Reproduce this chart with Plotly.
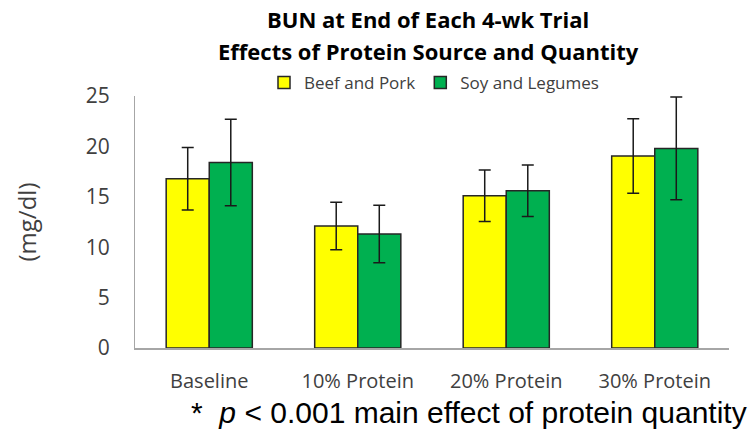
import plotly.graph_objects as go

# 데이터
categories = ['Baseline', '10% Protein', '20% Protein', '30% Protein']
beef_pork = [16.8, 12.1, 15.1, 19.05]
beef_pork_err = [3.1, 2.35, 2.55, 3.7]
soy_legumes = [18.4, 11.3, 15.6, 19.8]
soy_legumes_err = [4.3, 2.85, 2.55, 5.1]
y_ticks = [0, 5, 10, 15, 20, 25]

font_main = 'Open Sans, Lato, sans-serif'
font_note = 'Liberation Sans, Arial, sans-serif'

fig = go.Figure()
fig.add_trace(go.Bar(x = categories, y = beef_pork, name = 'Beef and Pork',
                     marker = dict(color = '#FFFF00', line = dict(color = '#262626', width = 1.5)),
                     error_y = dict(type = 'data', array = beef_pork_err, color = '#1a1a1a',
                                    thickness = 1.5, width = 6)))
fig.add_trace(go.Bar(x = categories, y = soy_legumes, name = 'Soy and Legumes',
                     marker = dict(color = '#00B050', line = dict(color = '#262626', width = 1.5)),
                     error_y = dict(type = 'data', array = soy_legumes_err, color = '#1a1a1a',
                                    thickness = 1.5, width = 6)))

fig.update_layout(
    width = 751, height = 436,
    margin = dict(l = 135, r = 22, t = 96, b = 88, autoexpand = False),
    plot_bgcolor = 'white', paper_bgcolor = 'white',
    barmode = 'group', bargap = 0.42, bargroupgap = 0,
    font = dict(family = font_main, color = '#404040'),
    legend = dict(orientation = 'h', x = (434 - 135) / 594, xanchor = 'center',
                  yref = 'container', y = 1 - 83 / 436, yanchor = 'middle',
                  font = dict(family = font_main, size = 17, color = '#404040'),
                  traceorder = 'normal', itemwidth = 30),
    showlegend = True,
)
fig.update_yaxes(range = [0, 25], tickvals = y_ticks, showgrid = False, zeroline = False,
                 showline = True, linecolor = '#A6A6A6', linewidth = 1,
                 ticks = '', ticklabelstandoff = 20, tickfont = dict(size = 21, color = '#404040'),
                 title = dict(text = '(mg/dl)', font = dict(size = 24, color = '#404040'), standoff = 42))
fig.update_xaxes(showgrid = False, showline = True, linecolor = '#A6A6A6', linewidth = 1.5,
                 ticks = '', ticklabelstandoff = 14, tickfont = dict(size = 20, color = '#404040'))

# 제목 (두 줄)
fig.add_annotation(text = '<b>BUN at End of Each 4-wk Trial</b>', xref = 'paper', yref = 'paper',
                   x = (428 - 135) / 594, y = (348 - 19) / 252, xanchor = 'center', yanchor = 'middle',
                   showarrow = False, font = dict(family = font_main, size = 22, color = 'black'))
fig.add_annotation(text = '<b>Effects of Protein Source and Quantity</b>', xref = 'paper', yref = 'paper',
                   x = (428 - 135) / 594, y = (348 - 51) / 252, xanchor = 'center', yanchor = 'middle',
                   showarrow = False, font = dict(family = font_main, size = 22, color = 'black'))

# 각주
fig.add_annotation(text = '*  <i>p</i> < 0.001 main effect of protein quantity',
                   xref = 'paper', yref = 'paper', x = (749 - 135) / 594, xanchor = 'right',
                   y = -64 / 252, yanchor = 'middle', showarrow = False,
                   font = dict(family = font_note, size = 30, color = 'black'))

fig.write_html("out.html", config = {'displayModeBar': False},
               post_script = "document.body.style.margin='0';")
